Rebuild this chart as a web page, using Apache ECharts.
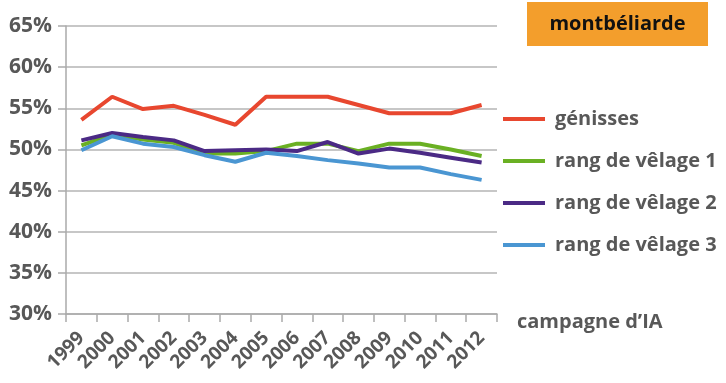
<!DOCTYPE html>
<html>
<head>
<meta charset="utf-8">
<script src="https://cdn.jsdelivr.net/npm/echarts@6/dist/echarts.min.js"></script>
<style>
  html, body { margin: 0; padding: 0; background: #fff; }
  #chart { width: 726px; height: 383px; }
</style>
</head>
<body>
<div id="chart"></div>
<script>
// Campagnes d'IA
const years = ['1999','2000','2001','2002','2003','2004','2005','2006','2007','2008','2009','2010','2011','2012'];

// Taux (%) par catégorie
const genisses = [53.6, 56.4, 54.9, 55.3, 54.2, 53.0, 56.4, 56.4, 56.4, 55.4, 54.4, 54.4, 54.4, 55.4];
const rang1    = [50.5, 51.8, 51.2, 50.8, 49.5, 49.5, 49.8, 50.7, 50.7, 49.8, 50.7, 50.7, 50.0, 49.2];
const rang2    = [51.1, 52.0, 51.5, 51.1, 49.8, 49.9, 50.0, 49.8, 50.9, 49.5, 50.1, 49.6, 49.0, 48.4];
const rang3    = [49.9, 51.6, 50.7, 50.3, 49.3, 48.5, 49.6, 49.2, 48.7, 48.3, 47.8, 47.8, 47.0, 46.3];

const seriesNames = ['génisses', 'rang de vêlage 1', 'rang de vêlage 2', 'rang de vêlage 3'];
const seriesColors = ['#E8472F', '#6AB023', '#4B2A85', '#4A96D2'];
const seriesData = [genisses, rang1, rang2, rang3];

const FONT = '"Open Sans"';
const GREY = '#585858';

const chart = echarts.init(document.getElementById('chart'), null, { renderer: 'canvas' });

chart.setOption({
  animation: false,
  grid: { left: 66, right: 229, top: 26, bottom: 69 },
  legend: {
    orient: 'vertical',
    left: 503,
    top: 106,
    padding: 0,
    icon: 'rect',
    itemWidth: 42,
    itemHeight: 4,
    itemGap: 16,
    textStyle: { fontFamily: FONT, fontWeight: 'bold', fontSize: 20, color: GREY, lineHeight: 26, padding: [0, 0, 0, 5] },
    data: seriesNames
  },
  xAxis: {
    type: 'category',
    data: years,
    boundaryGap: true,
    name: 'campagne d\u2019IA',
    nameLocation: 'end',
    nameGap: 20,
    nameTextStyle: { fontFamily: FONT, fontWeight: 'bold', fontSize: 20, color: GREY, align: 'left', verticalAlign: 'top', padding: [-2, 0, 0, 0] },
    axisLine: { lineStyle: { color: '#aaaaaa', width: 1.5 } },
    axisTick: { show: true, length: 8, alignWithLabel: false, lineStyle: { color: '#aaaaaa', width: 1.5 } },
    axisLabel: { rotate: 45, margin: 21, fontFamily: FONT, fontWeight: 'bold', fontSize: 19, color: GREY, interval: 0 }
  },
  yAxis: {
    type: 'value',
    min: 30,
    max: 65,
    interval: 5,
    axisLine: { show: true, lineStyle: { color: '#aaaaaa', width: 1.5 } },
    axisTick: { show: true, length: 8, lineStyle: { color: '#aaaaaa', width: 1.5 } },
    splitLine: { lineStyle: { color: '#b4b4b4', width: 1.5 } },
    axisLabel: { formatter: '{value}%', margin: 14, fontFamily: FONT, fontWeight: 'bold', fontSize: 21, color: GREY }
  },
  series: seriesNames.map((name, i) => ({
    name: name,
    type: 'line',
    data: seriesData[i],
    symbol: 'none',
    color: seriesColors[i],
    lineStyle: { width: 4, color: seriesColors[i] }
  })),
  graphic: [
    {
      type: 'rect',
      shape: { x: 527, y: 2, width: 181, height: 44 },
      style: { fill: '#F39E2C' }
    },
    {
      type: 'text',
      x: 617.5,
      y: 24,
      style: { text: 'montbéliarde', fontFamily: FONT, fontWeight: 'bold', fontSize: 20, fill: '#111', align: 'center', verticalAlign: 'middle' }
    }
  ]
});
</script>
</body>
</html>
